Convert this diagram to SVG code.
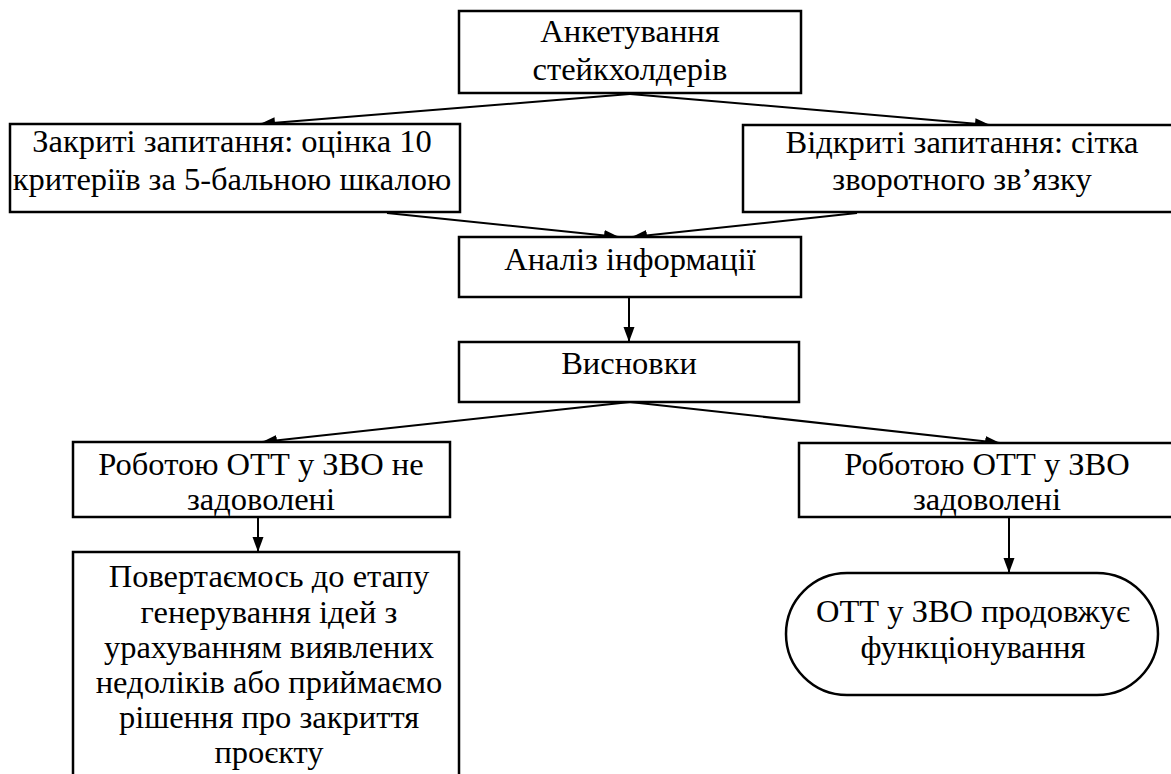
<svg xmlns="http://www.w3.org/2000/svg" width="1171" height="774" viewBox="0 0 1171 774">
<style>
.box{fill:#fff;stroke:#000;stroke-width:2.5}
.t{font-family:"Liberation Serif","Times New Roman",Tinos,"DejaVu Serif",serif;font-size:32.5px;fill:#000;text-anchor:middle}
.c{stroke:#000;stroke-width:2;fill:none;marker-end:url(#ah)}
</style>
<defs>
<marker id="ah" markerUnits="userSpaceOnUse" markerWidth="16" markerHeight="12" refX="15" refY="6" orient="auto">
<path d="M0,0.5 L15,6 L0,11.5 z" fill="#000"/>
</marker>
</defs>
<rect width="1171" height="774" fill="#fff"/>
<g id="connectors">
<line class="c" x1="630" y1="94" x2="260" y2="124"/>
<line class="c" x1="630" y1="94" x2="990" y2="125"/>
<line class="c" x1="387" y1="213" x2="619" y2="237"/>
<line class="c" x1="857" y1="213" x2="632" y2="237"/>
<line class="c" x1="629" y1="298" x2="629" y2="342"/>
<line class="c" x1="630" y1="402" x2="262" y2="442"/>
<line class="c" x1="630" y1="402" x2="1000" y2="443"/>
<line class="c" x1="258" y1="518" x2="258" y2="552"/>
<line class="c" x1="1009" y1="518" x2="1009" y2="573"/>
</g>
<g id="n1">
<rect class="box" x="459" y="11" width="342" height="82"/>
<text class="t" x="630" y="42">Анкетування</text>
<text class="t" x="630" y="80">стейкхолдерів</text>
</g>
<g id="n2">
<rect class="box" x="10" y="124" width="450" height="88"/>
<text class="t" x="232" y="152">Закриті запитання: оцінка 10</text>
<text class="t" x="232" y="190">критеріїв за 5-бальною шкалою</text>
</g>
<g id="n3">
<rect class="box" x="743" y="125" width="440" height="87"/>
<text class="t" x="962" y="153">Відкриті запитання: сітка</text>
<text class="t" x="962" y="190">зворотного зв’язку</text>
</g>
<g id="n4">
<rect class="box" x="459" y="237" width="342" height="60"/>
<text class="t" x="630" y="270">Аналіз інформації</text>
</g>
<g id="n5">
<rect class="box" x="459" y="342" width="340" height="60"/>
<text class="t" x="629" y="374">Висновки</text>
</g>
<g id="n6">
<rect class="box" x="73" y="442" width="377" height="75"/>
<text class="t" x="261" y="475">Роботою ОТТ у ЗВО не</text>
<text class="t" x="261" y="510">задоволені</text>
</g>
<g id="n7">
<rect class="box" x="799" y="443" width="384" height="74"/>
<text class="t" x="987" y="475">Роботою ОТТ у ЗВО</text>
<text class="t" x="987" y="510">задоволені</text>
</g>
<g id="n8">
<rect class="box" x="73" y="552" width="386" height="240"/>
<text class="t" x="269" y="587">Повертаємось до етапу</text>
<text class="t" x="269" y="623">генерування ідей з</text>
<text class="t" x="269" y="658">урахуванням виявлених</text>
<text class="t" x="269" y="693">недоліків або приймаємо</text>
<text class="t" x="269" y="728">рішення про закриття</text>
<text class="t" x="269" y="763">проєкту</text>
</g>
<g id="n9">
<rect class="box" x="786" y="573" width="372" height="122" rx="61" ry="61"/>
<text class="t" x="973" y="622">ОТТ у ЗВО продовжує</text>
<text class="t" x="973" y="658">функціонування</text>
</g>
</svg>
